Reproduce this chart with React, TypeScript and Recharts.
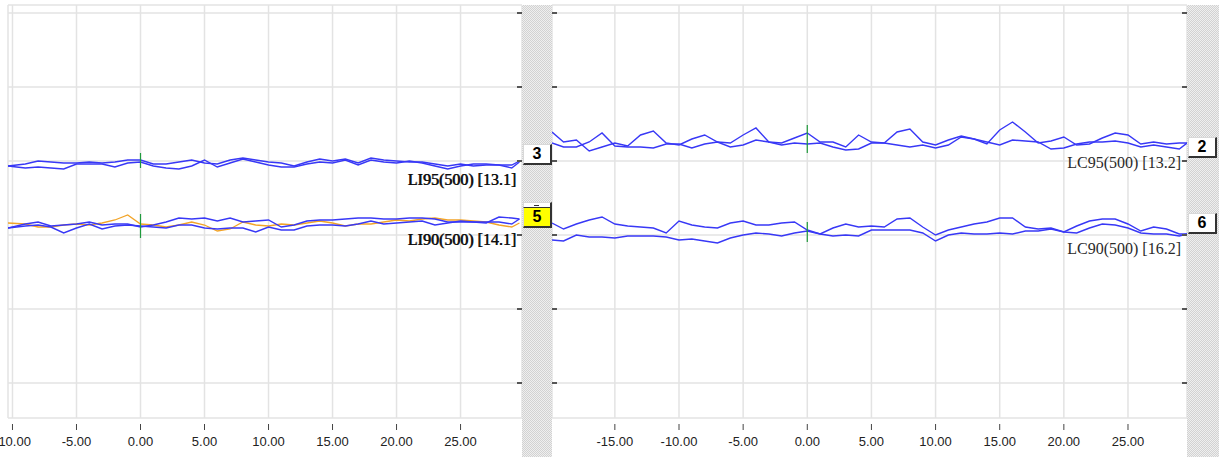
import React from 'react';
import { LineChart, Line, XAxis, YAxis, CartesianGrid, ReferenceLine } from 'recharts';

// time (s) of each sample; first/last points sit on the panel edges
const leftTimes = [-10.35, -9, -8, -7, -6, -5, -4, -3, -2, -1, 0, 1, 2, 3, 4, 5, 6, 7, 8, 9, 10, 11, 12, 13, 14, 15, 16, 17, 18, 19, 20, 21, 22, 23, 24, 25, 26, 27, 28, 29, 29.6];
const rightTimes = [-19.9, -19, -18, -17, -16, -15, -14, -13, -12, -11, -10, -9, -8, -7, -6, -5, -4, -3, -2, -1, 0, 1, 2, 3, 4, 5, 6, 7, 8, 9, 10, 11, 12, 13, 14, 15, 16, 17, 18, 19, 20, 21, 22, 23, 24, 25, 26, 27, 28, 29, 29.6];

// left panel traces
const li95a = [217, 219, 222, 221, 220, 220, 221, 220, 221, 223, 223, 219, 219, 221, 223, 220, 219, 223, 225, 223, 221, 220, 217, 221, 224, 222, 224, 220, 225, 223, 222, 221, 221, 219, 217, 219, 217, 218, 218, 218, 222];
const li95b = [217, 215, 216, 215, 214, 219, 219, 219, 216, 220, 221, 217, 215, 214, 217, 223, 216, 220, 224, 221, 218, 216, 216, 219, 221, 220, 223, 218, 223, 221, 220, 222, 220, 217, 214, 217, 219, 219, 218, 215, 221];
const li90a = [155, 159, 161, 157, 158, 159, 161, 158, 159, 159, 156, 158, 161, 165, 164, 165, 162, 165, 161, 162, 163, 156, 158, 162, 163, 163, 164, 165, 165, 164, 164, 165, 165, 164, 161, 161, 161, 160, 166, 165, 164];
const li90b = [155, 157, 158, 156, 150, 155, 159, 154, 157, 158, 157, 156, 155, 158, 158, 155, 154, 155, 155, 151, 156, 153, 153, 157, 158, 158, 157, 159, 162, 159, 160, 161, 162, 158, 160, 162, 161, 161, 161, 159, 164];
const li90ref = [160, 159, 156, 156, 158, 159, 158, 160, 163, 168, 159, 158, 156, 158, 161, 158, 152, 154, 161, 158, 157, 159, 158, 160, 162, 160, 157, 159, 159, 161, 163, 162, 164, 165, 163, 163, 162, 161, 158, 156, 160];

// right panel traces
const lc95a = [251, 241, 243, 232, 236, 240, 237, 248, 252, 240, 238, 244, 248, 241, 240, 248, 255, 241, 240, 245, 250, 241, 241, 236, 248, 241, 240, 251, 254, 241, 238, 243, 247, 244, 239, 253, 261, 251, 240, 242, 246, 238, 239, 245, 250, 248, 239, 241, 239, 240, 240];
const lc95b = [240, 236, 236, 241, 250, 237, 236, 236, 235, 239, 239, 235, 239, 241, 236, 238, 243, 241, 238, 240, 239, 240, 236, 233, 234, 240, 240, 238, 236, 238, 235, 238, 246, 244, 241, 238, 243, 242, 241, 234, 235, 239, 241, 241, 242, 240, 236, 238, 236, 234, 240];
const lc90a = [160, 154, 159, 163, 166, 159, 157, 156, 155, 150, 162, 158, 156, 155, 160, 162, 158, 158, 160, 161, 153, 149, 155, 159, 156, 157, 156, 164, 165, 156, 148, 153, 156, 159, 161, 165, 165, 156, 154, 155, 151, 157, 162, 164, 164, 159, 152, 156, 154, 149, 149];
const lc90b = [143, 142, 148, 146, 146, 145, 147, 147, 147, 146, 143, 144, 142, 140, 145, 148, 150, 149, 147, 150, 152, 149, 147, 148, 147, 153, 153, 153, 153, 150, 142, 148, 150, 149, 149, 150, 149, 152, 152, 154, 151, 150, 155, 159, 158, 155, 150, 149, 149, 147, 149];

const leftTicks = [-10, -5, 0, 5, 10, 15, 20, 25];
const rightTicks = [-15, -10, -5, 0, 5, 10, 15, 20, 25];
const levelTicks = [0, 74, 148, 222, 296, 370];

// green onset markers at t=0 (from/to level)
const leftMarkers = [[215, 230], [145, 169]];
const rightMarkers = [[230, 258], [141, 161]];

const leftNames = ['LI95(500) [13.1]', 'LI90(500) [14.1]'];
const rightNames = ['LC95(500) [13.2]', 'LC90(500) [16.2]'];
const leftBoxes = ['3', '5'];
const rightBoxes = ['2', '6'];

const BLUE = '#3838f6';
const ORANGE = '#f2a428';
const GREEN = '#1f9a3c';
const GRID = '#e3e3e3';
const LEVEL_DOMAIN: [number, number] = [-35, 378];

const leftData = leftTimes.map((t, i) => ({
  t,
  a: li95a[i],
  b: li95b[i],
  c: li90a[i],
  d: li90b[i],
  e: li90ref[i],
}));

const rightData = rightTimes.map((t, i) => ({
  t,
  a: lc95a[i],
  b: lc95b[i],
  c: lc90a[i],
  d: lc90b[i],
}));

const TimeTick = (props: any) => {
  const { x, y, payload } = props;
  return (
    <g>
      <line x1={x} x2={x} y1={y + 6} y2={y + 12} stroke="#444" />
      <text
        x={x}
        y={y + 28}
        textAnchor="middle"
        fontSize={13}
        fontFamily="'Liberation Sans Narrow', 'Arial Narrow', 'Liberation Sans', sans-serif"
        fill="#222"
      >
        {Number(payload.value).toFixed(2)}
      </text>
    </g>
  );
};

const noTick = () => <g />;

const hatch = {
  position: 'absolute' as const,
  top: 5,
  height: 452,
  backgroundColor: '#e9e9e9',
  backgroundImage: 'repeating-conic-gradient(#d2d2d2 0% 25%, #efefef 0% 50%)',
  backgroundSize: '2px 2px',
};

const boxStyle = (left: number, top: number, bg: string) => ({
  position: 'absolute' as const,
  left,
  top,
  width: 26,
  height: 18,
  background: bg,
  borderTop: '1px solid #d8d8d8',
  borderLeft: '1px solid #d8d8d8',
  borderRight: '2px solid #333',
  borderBottom: '2px solid #333',
  fontFamily: "'Liberation Sans', Arial, sans-serif",
  fontWeight: 700,
  fontSize: 16,
  lineHeight: '18px',
  textAlign: 'center' as const,
  color: '#000',
});

const nameStyle = (right: number, top: number, strong: boolean) => ({
  position: 'absolute' as const,
  right,
  top,
  fontFamily: "'Liberation Serif', 'Times New Roman', serif",
  fontSize: 16,
  lineHeight: '18px',
  whiteSpace: 'nowrap' as const,
  color: strong ? '#111' : '#2a2a2a',
  textShadow: strong ? '0.7px 0 0 #111' : 'none',
});

export default function App() {
  return (
    <div
      style={{
        position: 'fixed',
        left: 0,
        top: 0,
        width: 1219,
        height: 457,
        background: '#fff',
        overflow: 'hidden',
      }}
    >
      <div style={{ position: 'absolute', left: 0, top: 0 }}>
        <LineChart width={522} height={457} data={leftData} margin={{ top: 5, right: 0, bottom: 0, left: 8 }}>
          <CartesianGrid stroke={GRID} strokeWidth={1.5} />
          <XAxis
            dataKey="t"
            type="number"
            domain={[-10.35, 29.8]}
            ticks={leftTicks}
            allowDataOverflow
            height={39}
            axisLine={false}
            tickLine={false}
            tickSize={0}
            tickMargin={0}
            tick={TimeTick}
          />
          <YAxis
            orientation="right"
            mirror
            domain={LEVEL_DOMAIN}
            ticks={levelTicks}
            allowDataOverflow
            axisLine={false}
            tickLine={{ stroke: '#555', strokeWidth: 2 }}
            tickSize={5}
            tick={noTick}
          />
          <Line dataKey="e" stroke={ORANGE} strokeWidth={1.3} dot={false} isAnimationActive={false} />
          <Line dataKey="a" stroke={BLUE} strokeWidth={1.4} dot={false} isAnimationActive={false} />
          <Line dataKey="b" stroke={BLUE} strokeWidth={1.4} dot={false} isAnimationActive={false} />
          <Line dataKey="c" stroke={BLUE} strokeWidth={1.4} dot={false} isAnimationActive={false} />
          <Line dataKey="d" stroke={BLUE} strokeWidth={1.4} dot={false} isAnimationActive={false} />
          {leftMarkers.map(([lo, hi], i) => (
            <ReferenceLine
              key={i}
              segment={[
                { x: 0, y: lo },
                { x: 0, y: hi },
              ]}
              stroke={GREEN}
              strokeWidth={1.2}
            />
          ))}
        </LineChart>
      </div>

      <div style={{ position: 'absolute', left: 552, top: 0 }}>
        <LineChart width={635} height={457} data={rightData} margin={{ top: 5, right: 0, bottom: 0, left: 0 }}>
          <CartesianGrid stroke={GRID} strokeWidth={1.5} />
          <XAxis
            dataKey="t"
            type="number"
            domain={[-19.9, 29.6]}
            ticks={rightTicks}
            allowDataOverflow
            height={39}
            axisLine={false}
            tickLine={false}
            tickSize={0}
            tickMargin={0}
            tick={TimeTick}
          />
          <YAxis
            orientation="left"
            mirror
            domain={LEVEL_DOMAIN}
            ticks={levelTicks}
            allowDataOverflow
            axisLine={false}
            tickLine={{ stroke: '#555', strokeWidth: 2 }}
            tickSize={5}
            tick={noTick}
          />
          <YAxis
            yAxisId="r"
            orientation="right"
            mirror
            domain={LEVEL_DOMAIN}
            ticks={levelTicks}
            allowDataOverflow
            axisLine={false}
            tickLine={{ stroke: '#555', strokeWidth: 2 }}
            tickSize={5}
            tick={noTick}
          />
          <Line dataKey="a" stroke={BLUE} strokeWidth={1.4} dot={false} isAnimationActive={false} />
          <Line dataKey="b" stroke={BLUE} strokeWidth={1.4} dot={false} isAnimationActive={false} />
          <Line dataKey="c" stroke={BLUE} strokeWidth={1.4} dot={false} isAnimationActive={false} />
          <Line dataKey="d" stroke={BLUE} strokeWidth={1.4} dot={false} isAnimationActive={false} />
          {rightMarkers.map(([lo, hi], i) => (
            <ReferenceLine
              key={i}
              segment={[
                { x: 0, y: lo },
                { x: 0, y: hi },
              ]}
              stroke={GREEN}
              strokeWidth={1.2}
            />
          ))}
        </LineChart>
      </div>

      <div style={{ ...hatch, left: 522, width: 30 }} />
      <div style={{ ...hatch, left: 1187, width: 32 }} />

      <div style={boxStyle(523, 144, '#fff')}>{leftBoxes[0]}</div>
      <div style={{ ...boxStyle(523, 202, '#fff'), height: 5 }}>
        <div style={{ position: 'absolute', left: 10, top: 2, width: 5, height: 1, background: '#333' }} />
      </div>
      <div style={{ ...boxStyle(523, 207, '#ffff00'), borderTop: '1px solid #333' }}>{leftBoxes[1]}</div>
      <div style={boxStyle(1188, 137, '#fff')}>{rightBoxes[0]}</div>
      <div style={boxStyle(1188, 213, '#fff')}>{rightBoxes[1]}</div>

      <div style={nameStyle(1219 - 516, 171, true)}>{leftNames[0]}</div>
      <div style={nameStyle(1219 - 516, 231, true)}>{leftNames[1]}</div>
      <div style={nameStyle(1219 - 1181, 154, false)}>{rightNames[0]}</div>
      <div style={nameStyle(1219 - 1181, 240, false)}>{rightNames[1]}</div>
    </div>
  );
}
